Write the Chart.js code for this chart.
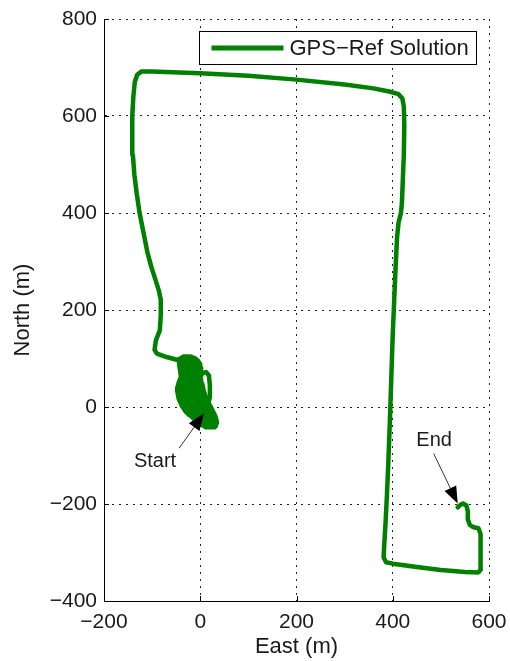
<!DOCTYPE html>
<html>
<head>
<meta charset="utf-8">
<script src="https://cdn.jsdelivr.net/npm/chart.js@4/dist/chart.umd.min.js"></script>
<style>
  html, body { margin: 0; padding: 0; background: #fff; }
  canvas { display: block; }
</style>
</head>
<body>
<canvas id="c" width="510" height="661" style="width:510px;height:661px"></canvas>
<script>
// Vehicle track from the GPS reference solution (metres, local East/North frame).
// It begins with slow manoeuvring around the origin, then the long loop.
const east = [
  5, 15, 20, 20, 18, 12, 4, 0,
  10, 32, 34, -2, -14, 33, 30, -24, -30, 26, 22, -34, -38, 18, 14, -42, -45, 10,
  8, -47, -48, 6, 4, -45, -40, 2, -2, -38, -40, 0, 2, -42, -44, 0, -5, -42, -35, -20,
  -10, -3, 1, 0, 1, 5, 9, 16, 24, 31, 35, 30, 12, -2, -16, -30, -38, -45, -48, -45, -40, -42, -44, -36,
  -47, -70, -90, -95, -92, -84, -82, -82,
  -86, -93, -102, -110, -118, -126, -132, -137, -140, -141.5, -141, -139, -136, -131, -122, -100,
  0, 100, 200, 300, 360, 395, 412, 420, 423, 424, 423, 421, 419, 417, 412, 409, 406, 403, 400,
  397, 394, 391, 388, 385, 382, 381, 386, 400, 450, 500, 550, 578, 583, 583, 582, 578, 568,
  560, 556, 556, 553, 546, 540, 535
];
const north = [
  -15, 0, 20, 45, 65, 72, 70, 60,
  -40, -40, -32, -32, -24, -24, -16, -16, -8, -8, 0, 0, 8, 8, 16, 16, 24, 24,
  32, 32, 40, 40, 48, 48, 56, 56, 64, 64, 72, 72, 80, 80, 88, 88, 96, 96, 104, 104,
  100, 92, 82, 70, 58, 42, 26, 10, -4, -18, -32, -42, -42, -33, -22, -10, 2, 18, 34, 50, 62, 76, 90, 103,
  97, 103, 110, 118, 138, 158, 190, 221,
  240, 262, 290, 320, 360, 400, 440, 480, 520, 560, 600, 640, 670, 685, 692, 692,
  688, 683, 675, 665, 657, 650, 645, 636, 620, 580, 520, 470, 420, 400, 380, 350, 290, 220, 150,
  60, -30, -110, -180, -240, -290, -310, -320, -323, -330, -336, -340, -341, -335, -300, -262, -250, -248,
  -243, -232, -215, -203, -199, -202, -207
];

const seriesName = 'GPS\u2212Ref Solution';
const xTicks = [-200, 0, 200, 400, 600];
const yTicks = [-400, -200, 0, 200, 400, 600, 800];

// Text callouts with arrows (data coordinates)
const noteLabels = ['Start', 'End'];
const noteTextE = [-94, 486];
const noteTextN = [-112, -70];
const arrowTailE = [-44, 485];
const arrowTailN = [-85, -96];
const arrowTipE = [8, 535];
const arrowTipN = [-13, -199];

const FONT = 'Liberation Sans, Arial, Helvetica, sans-serif';
const TEXT = '#1a1a1a';
const GREEN = '#008000';

const points = east.map((e, i) => ({ x: e, y: north[i] }));

// MATLAB-style inward tick marks on the left and bottom axes
const innerTicks = {
  id: 'innerTicks',
  afterDatasetsDraw(chart) {
    const { ctx, chartArea: a, scales: { x, y } } = chart;
    ctx.save();
    ctx.strokeStyle = '#000';
    ctx.lineWidth = 1;
    ctx.beginPath();
    xTicks.forEach(v => {
      const px = Math.round(x.getPixelForValue(v)) + 0.5;
      ctx.moveTo(px, a.bottom);
      ctx.lineTo(px, a.bottom - 5);
    });
    yTicks.forEach(v => {
      const py = Math.round(y.getPixelForValue(v)) + 0.5;
      ctx.moveTo(a.left, py);
      ctx.lineTo(a.left + 5, py);
    });
    ctx.stroke();
    ctx.restore();
  }
};

// Legend box in the upper right corner of the axes
const boxLegend = {
  id: 'boxLegend',
  afterDraw(chart) {
    const { ctx } = chart;
    const ds = chart.data.datasets[0];
    const bx = 199.5, by = 31.5, bw = 277, bh = 33;
    ctx.save();
    ctx.fillStyle = '#fff';
    ctx.fillRect(bx, by, bw, bh);
    ctx.strokeStyle = '#000';
    ctx.lineWidth = 1;
    ctx.strokeRect(bx, by, bw, bh);
    ctx.strokeStyle = ds.borderColor;
    ctx.lineWidth = 5;
    ctx.beginPath();
    ctx.moveTo(bx + 12, by + bh / 2);
    ctx.lineTo(bx + 84, by + bh / 2);
    ctx.stroke();
    ctx.fillStyle = TEXT;
    ctx.font = '22px ' + FONT;
    ctx.textBaseline = 'middle';
    ctx.textAlign = 'left';
    ctx.fillText(ds.label, bx + 90, by + bh / 2 + 1);
    ctx.restore();
  }
};

// "Start" / "End" callouts
const callouts = {
  id: 'callouts',
  afterDraw(chart) {
    const { ctx, scales: { x, y } } = chart;
    ctx.save();
    noteLabels.forEach((t, i) => {
      const tx = x.getPixelForValue(noteTextE[i]);
      const ty = y.getPixelForValue(noteTextN[i]);
      ctx.fillStyle = TEXT;
      ctx.font = '20px ' + FONT;
      ctx.textAlign = 'center';
      ctx.textBaseline = 'middle';
      ctx.fillText(t, tx, ty);

      const x0 = x.getPixelForValue(arrowTailE[i]);
      const y0 = y.getPixelForValue(arrowTailN[i]);
      const x1 = x.getPixelForValue(arrowTipE[i]);
      const y1 = y.getPixelForValue(arrowTipN[i]);
      const ang = Math.atan2(y1 - y0, x1 - x0);
      const len = 17, half = 6.5;
      const bxp = x1 - len * Math.cos(ang), byp = y1 - len * Math.sin(ang);
      ctx.strokeStyle = '#333';
      ctx.lineWidth = 1;
      ctx.beginPath();
      ctx.moveTo(x0, y0);
      ctx.lineTo(bxp, byp);
      ctx.stroke();
      ctx.fillStyle = '#000';
      ctx.beginPath();
      ctx.moveTo(x1, y1);
      ctx.lineTo(bxp + half * Math.sin(ang), byp - half * Math.cos(ang));
      ctx.lineTo(bxp - half * Math.sin(ang), byp + half * Math.cos(ang));
      ctx.closePath();
      ctx.fill();
    });
    ctx.restore();
  }
};

new Chart(document.getElementById('c'), {
  type: 'scatter',
  data: {
    datasets: [{
      label: seriesName,
      data: points,
      showLine: true,
      borderColor: GREEN,
      backgroundColor: GREEN,
      borderWidth: 4.5,
      borderJoinStyle: 'round',
      borderCapStyle: 'round',
      pointRadius: 0,
      tension: 0
    }]
  },
  options: {
    responsive: false,
    animation: false,
    devicePixelRatio: 1,
    layout: { padding: { top: 19, right: 21, left: 0, bottom: 0 } },
    plugins: { legend: { display: false }, tooltip: { enabled: false } },
    scales: {
      x: {
        type: 'linear',
        min: -200, max: 600,
        afterBuildTicks: s => { s.ticks = xTicks.map(v => ({ value: v })); },
        afterFit: s => { s.height = 60; s.paddingLeft = 0; s.paddingRight = 0; },
        grid: { color: '#222', lineWidth: 1, drawTicks: false },
        border: { display: true, color: '#000', width: 1, dash: [2, 5] },
        ticks: {
          color: TEXT, padding: 9, maxRotation: 0,
          font: { family: FONT, size: 21 },
          callback: v => String(v).replace('-', '\u2212')
        },
        title: {
          display: true, text: 'East (m)', color: TEXT,
          font: { family: FONT, size: 22 }, padding: { top: 0, bottom: 1 }
        }
      },
      y: {
        type: 'linear',
        min: -400, max: 800,
        afterBuildTicks: s => { s.ticks = yTicks.map(v => ({ value: v })); },
        afterFit: s => { s.width = 104; s.paddingTop = 0; s.paddingBottom = 0; },
        grid: { color: '#222', lineWidth: 1, drawTicks: false },
        border: { display: true, color: '#000', width: 1, dash: [2, 5] },
        ticks: {
          color: TEXT, padding: 7,
          font: { family: FONT, size: 21 },
          callback: v => String(v).replace('-', '\u2212')
        },
        title: {
          display: true, text: 'North (m)', color: TEXT,
          font: { family: FONT, size: 22 }, padding: { top: 10, bottom: 0 }
        }
      }
    }
  },
  plugins: [innerTicks, boxLegend, callouts]
});
</script>
</body>
</html>
